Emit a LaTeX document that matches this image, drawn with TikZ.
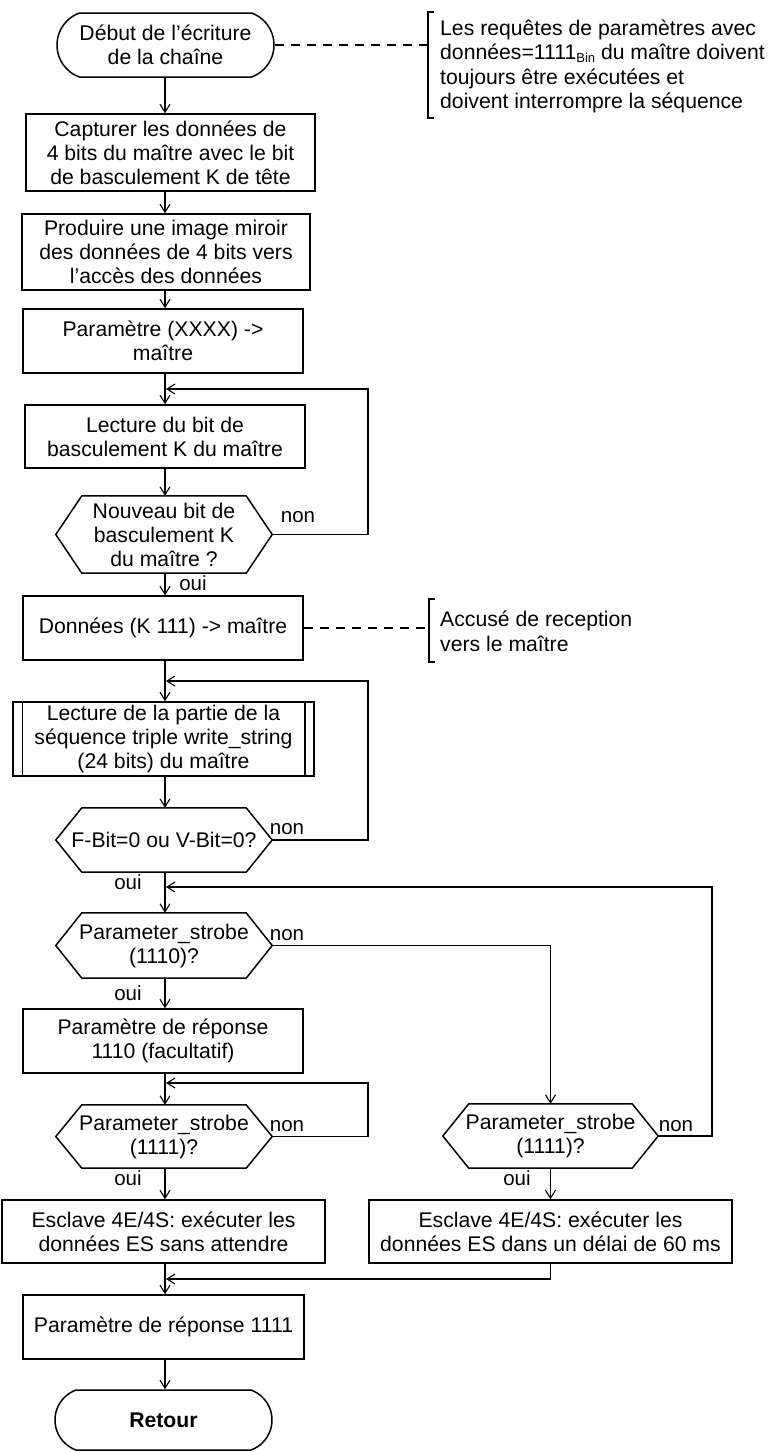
\documentclass[tikz,border=0pt]{standalone}
\usepackage{fontspec}
\setmainfont{Liberation Sans}
\usetikzlibrary{arrows.meta,shapes.misc,calc}
\begin{document}
\begin{tikzpicture}[x=1pt,y=-1pt,
  every node/.style={font=\fontsize{21.2}{24}\selectfont, inner sep=0pt},
  box/.style={draw, line width=1.5, align=center},
  term/.style={draw, line width=1.5, rounded rectangle, rounded rectangle arc length=140, align=center},
  hexa/.style={align=center},
  arr/.style={line width=1.1, -{Straight Barb[length=8,width=10]}},
  plain/.style={line width=1.1},
  dsh/.style={line width=1.1, dash pattern=on 9 off 7},
  lbl/.style={font=\fontsize{20.5}{24}\selectfont}]
\useasboundingbox (0,0) rectangle (775,1452);
\coordinate (col) at (165,0);
\coordinate (lx) at (368,0);
\coordinate (rx) at (712,0);

% main column
\node[term, minimum width=217, minimum height=64] (start) at (165.5,45) {D\'ebut de l’\'ecriture\\de la cha\^ine};
\node[box, minimum width=289, minimum height=77] (b1) at (170.5,152.5) {Capturer les donn\'ees de\\4 bits du ma\^itre avec le bit\\de basculement K de t\^ete};
\node[box, minimum width=288, minimum height=76] (b2) at (166,252) {Produire une image miroir\\des donn\'ees de 4 bits vers\\l’acc\`es des donn\'ees};
\node[box, minimum width=280, minimum height=64] (b3) at (163,341) {Param\`etre (XXXX) ->\\ma\^itre};
\node[box, minimum width=280, minimum height=63] (b4) at (165,436.5) {Lecture du bit de\\basculement K du ma\^itre};
\node[hexa, minimum width=216, minimum height=77] (h1) at (164,534.5) {Nouveau bit de\\basculement K\\du ma\^itre ?};
\node[box, minimum width=280, minimum height=64] (b5) at (163,628) {Donn\'ees (K 111) -> ma\^itre};
\node[box, minimum width=301, minimum height=74] (b6) at (163.5,739) {Lecture de la partie de la\\s\'equence triple write\_string\\(24 bits) du ma\^itre};
\node[hexa, minimum width=216, minimum height=64] (h2) at (164,840) {F-Bit=0 ou V-Bit=0?};
\node[hexa, minimum width=216, minimum height=65] (h3) at (164,945.5) {Parameter\_strobe\\(1110)?};
\node[box, minimum width=280, minimum height=64] (b7) at (163,1041) {Param\`etre de r\'eponse\\1110 (facultatif)};
\node[hexa, minimum width=216, minimum height=63] (h4) at (164,1136.5) {Parameter\_strobe\\(1111)?};
\node[box, minimum width=323, minimum height=63] (b8) at (163.5,1231.5) {Esclave 4E/4S: ex\'ecuter les\\donn\'ees ES sans attendre};
\node[hexa, minimum width=215, minimum height=64] (h5) at (550.5,1136) {Parameter\_strobe\\(1111)?};
\node[box, minimum width=363, minimum height=63] (b9) at (550.5,1231.5) {Esclave 4E/4S: ex\'ecuter les\\donn\'ees ES dans un d\'elai de 60 ms};
\node[box, minimum width=281, minimum height=64] (b10) at (163.5,1327) {Param\`etre de r\'eponse 1111};
\node[term, minimum width=217, minimum height=60] (ret) at (163.5,1420) {\textbf{Retour}};

% hexagon outlines
\foreach \n in {h1,h2,h3,h4,h5}
  \draw[line width=1.5] ([xshift=26]\n.north west) -- ([xshift=-26]\n.north east) -- (\n.east)
    -- ([xshift=-26]\n.south east) -- ([xshift=26]\n.south west) -- (\n.west) -- cycle;
% predefined process inner lines
\draw[line width=1.5] ([xshift=10]b6.north west) -- ([xshift=10]b6.south west);
\draw[line width=1.5] ([xshift=-10]b6.north east) -- ([xshift=-10]b6.south east);

% annotations
\node[anchor=west, align=left, font=\fontsize{21.2}{24.5}\selectfont] (ann1) at (440,66.5) {Les requ\^etes de param\`etres avec\\donn\'ees=1111\raisebox{-2.5pt}{\fontsize{13}{13}\selectfont Bin} du ma\^itre doivent\\toujours \^etre ex\'ecut\'ees et\\doivent interrompre la s\'equence};
\coordinate (br1) at (428,45);
\draw[line width=1.1] (434,12) -- (428,12) -- (428,118) -- (434,118);
\draw[dsh] (start.east) -- (br1);

\node[anchor=west, align=left, font=\fontsize{21.2}{25}\selectfont] (ann2) at (440,631.5) {Accus\'e de reception\\vers le ma\^itre};
\coordinate (br2) at (429,628);
\draw[line width=1.1] (435,599) -- (429,599) -- (429,662) -- (435,662);
\draw[dsh] (b5.east) -- (br2);

% main flow arrows
\draw[arr] (start.south -| col) -- (b1.north -| col);
\draw[arr] (b1.south -| col) -- (b2.north -| col);
\draw[arr] (b2.south -| col) -- (b3.north -| col);
\draw[arr] (b3.south -| col) -- (b4.north -| col);
\draw[arr] (b4.south -| col) -- (h1.north -| col);
\draw[arr] (h1.south -| col) -- (b5.north -| col);
\draw[arr] (b5.south -| col) -- (b6.north -| col);
\draw[arr] (b6.south -| col) -- (h2.north -| col);
\draw[arr] (h2.south -| col) -- (h3.north -| col);
\draw[arr] (h3.south -| col) -- (b7.north -| col);
\draw[arr] (b7.south -| col) -- (h4.north -| col);
\draw[arr] (h4.south -| col) -- (b8.north -| col);
\draw[arr] (b8.south -| col) -- (b10.north -| col);
\draw[arr] (b10.south -| col) -- (ret.north -| col);

% loops
\coordinate (j1) at (166,389);
\coordinate (j2) at (166,681);
\coordinate (j3) at (166,1083);
\coordinate (j4) at (166,887);
\coordinate (j5) at (166,1279);
\draw[arr] (h1.east) -- (h1.east -| lx) -- (j1 -| lx) -- (j1);
\draw[arr] (h2.east) -- (h2.east -| lx) -- (j2 -| lx) -- (j2);
\draw[arr] (h4.east) -- (h4.east -| lx) -- (j3 -| lx) -- (j3);
\draw[arr] (h3.east) -| (h5.north);
\draw[arr] (h5.east) -- (h5.east -| rx) -- (j4 -| rx) -- (j4);
\draw[arr] (b9.south) -- (b9.south |- j5) -- (j5);
\draw[arr] (h5.south) -- (b9.north);

% labels
\node[lbl] (n1) at (298,517) {non};
\node[lbl] (o1) at (193,583) {oui};
\node[lbl] (n2) at (287,829) {non};
\node[lbl] (o2) at (128,882) {oui};
\node[lbl] (n3) at (287,935) {non};
\node[lbl] (o3) at (128,993) {oui};
\node[lbl] (n4) at (287,1126) {non};
\node[lbl] (o4) at (128,1178) {oui};
\node[lbl] (n5) at (676,1126) {non};
\node[lbl] (o5) at (517,1178) {oui};
\end{tikzpicture}
\end{document}
